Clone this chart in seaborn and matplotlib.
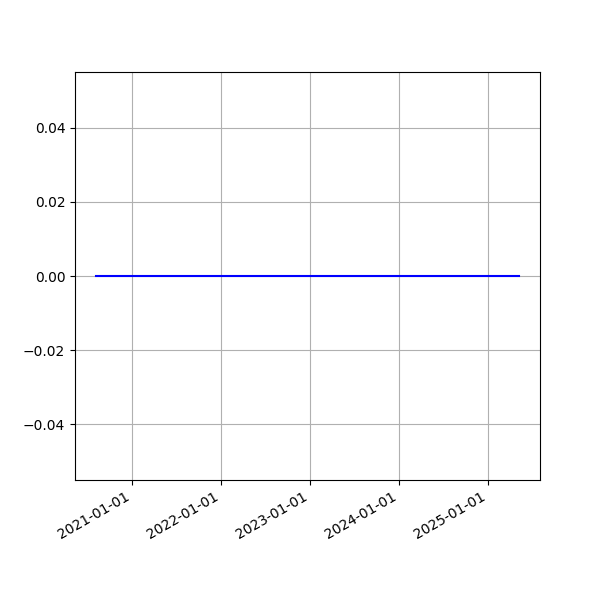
import pandas as pd
import matplotlib
matplotlib.use("Agg")
import matplotlib.pyplot as plt
import matplotlib.dates as mdates
import seaborn as sns

# Data: flat series at zero
dates = pd.to_datetime(["2020-08-05", "2021-06-01", "2022-06-01", "2023-06-01", "2024-06-01", "2025-05-09"])
values = [0, 0, 0, 0, 0, 0]

df = pd.DataFrame({"date": dates, "value": values})

fig, ax = plt.subplots(figsize=(6, 6), dpi=100)
sns.lineplot(data=df, x="date", y="value", color="b", ax=ax)

ax.xaxis.set_major_locator(mdates.YearLocator())
ax.xaxis.set_major_formatter(mdates.DateFormatter("%Y-%m-%d"))
ax.set_xlabel("")
ax.set_ylabel("")
ax.grid(True)
fig.autofmt_xdate()

plt.savefig("out.png")
